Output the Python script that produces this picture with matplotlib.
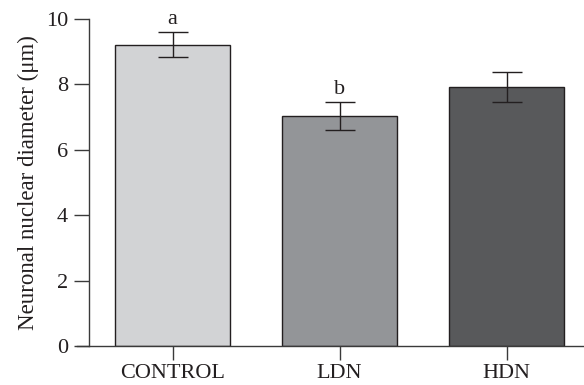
import matplotlib
matplotlib.use("Agg")
import matplotlib.pyplot as plt

groups = ["CONTROL", "LDN", "HDN"]
means = [9.22, 7.03, 7.92]
errors = [0.37, 0.42, 0.47]
letters = ["a", "b", ""]
colors = ["#d2d3d5", "#939598", "#58595b"]
yticks = [0, 2, 4, 6, 8, 10]

plt.rcParams["font.family"] = ["Liberation Serif", "DejaVu Serif"]
FS = 16

fig = plt.figure(figsize=(5.84, 3.85), dpi=100)
ax = fig.add_axes([0.1524, 0.1013, 0.8476, 0.8493])

x = list(range(len(groups)))
ax.bar(x, means, width=0.69, color=colors, edgecolor="#231f20", linewidth=1.0, zorder=2)
ax.errorbar(x, means, yerr=errors, fmt="none", ecolor="#231f20", elinewidth=1.0,
            capsize=11, capthick=1.0, zorder=3)

for xi, m, e, lab in zip(x, means, errors, letters):
    if lab:
        ax.text(xi, m + e + 0.1, lab, ha="center", va="bottom", fontsize=FS, color="#231f20")

ax.set_xlim(-0.5, 2.464)
ax.set_ylim(0, 10)
ax.set_yticks(yticks)
ax.set_xticks(x)
ax.set_xticklabels(groups)
ax.set_ylabel("Neuronal nuclear diameter (μm)", fontsize=16.5, color="#231f20", labelpad=5)

for s in ["top", "right", "bottom"]:
    ax.spines[s].set_visible(False)
ax.spines["left"].set_color("#3a3a3a")
ax.spines["left"].set_linewidth(1.0)
ax.axhline(0, xmin=-0.025, xmax=1, color="#3a3a3a", linewidth=1.0, clip_on=False, zorder=4)

ax.tick_params(axis="y", direction="out", length=11, width=1.0, color="#3a3a3a",
               labelsize=FS, labelcolor="#231f20", pad=4)
ax.tick_params(axis="x", direction="out", length=10, width=1.0, color="#3a3a3a",
               labelsize=FS, labelcolor="#231f20", pad=3)

fig.savefig("out.png", dpi=100)
